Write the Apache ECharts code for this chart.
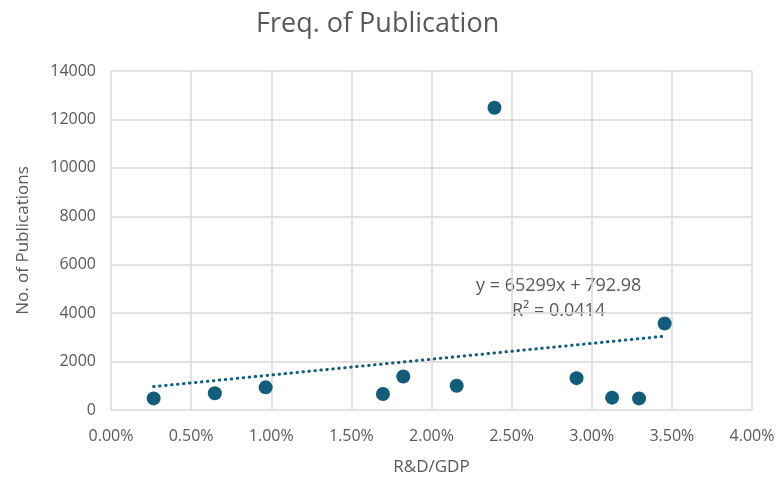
<!DOCTYPE html>
<html>
<head>
<meta charset="utf-8">
<script src="https://cdn.jsdelivr.net/npm/echarts@6/dist/echarts.min.js"></script>
<style>
	html, body { margin: 0; padding: 0; background: #fff; }
	#chart { width: 783px; height: 481px; }
</style>
</head>
<body>
<div id="chart"></div>
<script>
// R&D spend as a share of GDP (fraction) and publication counts
var rdGdp = [0.00266, 0.00648, 0.00965, 0.01697, 0.01824, 0.02157, 0.02393, 0.02905, 0.03127, 0.03295, 0.03455];
var publications = [480, 690, 935, 660, 1385, 1000, 12480, 1315, 510, 480, 3575];

// trendline as printed on the chart
var slope = 65299;
var intercept = 792.98;
var eqText = 'y = 65299x + 792.98';
var r2Text = 'R² = 0.0414';

var xTicks = { min: 0, max: 0.04, step: 0.005 };
var yTicks = { min: 0, max: 14000, step: 2000 };

var points = [];
for (var i = 0; i < rdGdp.length; i++) {
	points.push([rdGdp[i], publications[i]]);
}
var xMin = Math.min.apply(null, rdGdp);
var xMax = Math.max.apply(null, rdGdp);
var trend = [
	[xMin, slope * xMin + intercept],
	[xMax, slope * xMax + intercept]
];

var grey = '#595959';
var font = 'Open Sans';
var dotColor = '#125c7c';

var myChart = echarts.init(document.getElementById('chart'));

var option = {
	backgroundColor: '#fff',
	animation: false,
	title: {
		text: 'Freq. of Publication',
		left: 251,
		top: 6,
		textStyle: { color: grey, fontSize: 27, fontWeight: 'normal', fontFamily: font }
	},
	grid: { left: 111, right: 31, top: 71, bottom: 70 },
	xAxis: {
		type: 'value',
		min: xTicks.min,
		max: xTicks.max,
		interval: xTicks.step,
		name: 'R&D/GDP',
		nameLocation: 'middle',
		nameGap: 49,
		nameTextStyle: { color: grey, fontSize: 17, fontFamily: font },
		axisLine: { show: false },
		axisTick: { show: false },
		axisLabel: {
			color: grey, fontSize: 16, fontFamily: font, margin: 18,
			formatter: function (v) { return (v * 100).toFixed(2) + '%'; }
		},
		splitLine: { show: true, lineStyle: { color: '#d9d9d9', width: 1.5 } }
	},
	yAxis: {
		type: 'value',
		min: yTicks.min,
		max: yTicks.max,
		interval: yTicks.step,
		name: 'No. of Publications',
		nameLocation: 'middle',
		nameGap: 79,
		nameTextStyle: { color: grey, fontSize: 17, fontFamily: font },
		axisLine: { show: false },
		axisTick: { show: false },
		axisLabel: {
			color: grey, fontSize: 16, fontFamily: font, margin: 15,
			formatter: function (v) { return String(v); }
		},
		splitLine: { show: true, lineStyle: { color: '#d9d9d9', width: 1.5 } }
	},
	graphic: [
		{
			type: 'text', left: 476, top: 277,
			style: { text: eqText, fill: grey, fontSize: 18, fontFamily: font }
		},
		{
			type: 'text', left: 512, top: 302,
			style: { text: r2Text, fill: grey, fontSize: 18, fontFamily: font }
		}
	],
	series: [
		{
			name: 'trend',
			type: 'line',
			data: trend,
			symbol: 'none',
			lineStyle: { color: dotColor, width: 3, type: [0.5, 5.5], cap: 'round' },
			z: 1
		},
		{
			name: 'publications',
			type: 'scatter',
			data: points,
			symbolSize: 14,
			itemStyle: { color: dotColor, opacity: 1 },
			z: 2
		}
	]
};

myChart.setOption(option);
</script>
</body>
</html>
